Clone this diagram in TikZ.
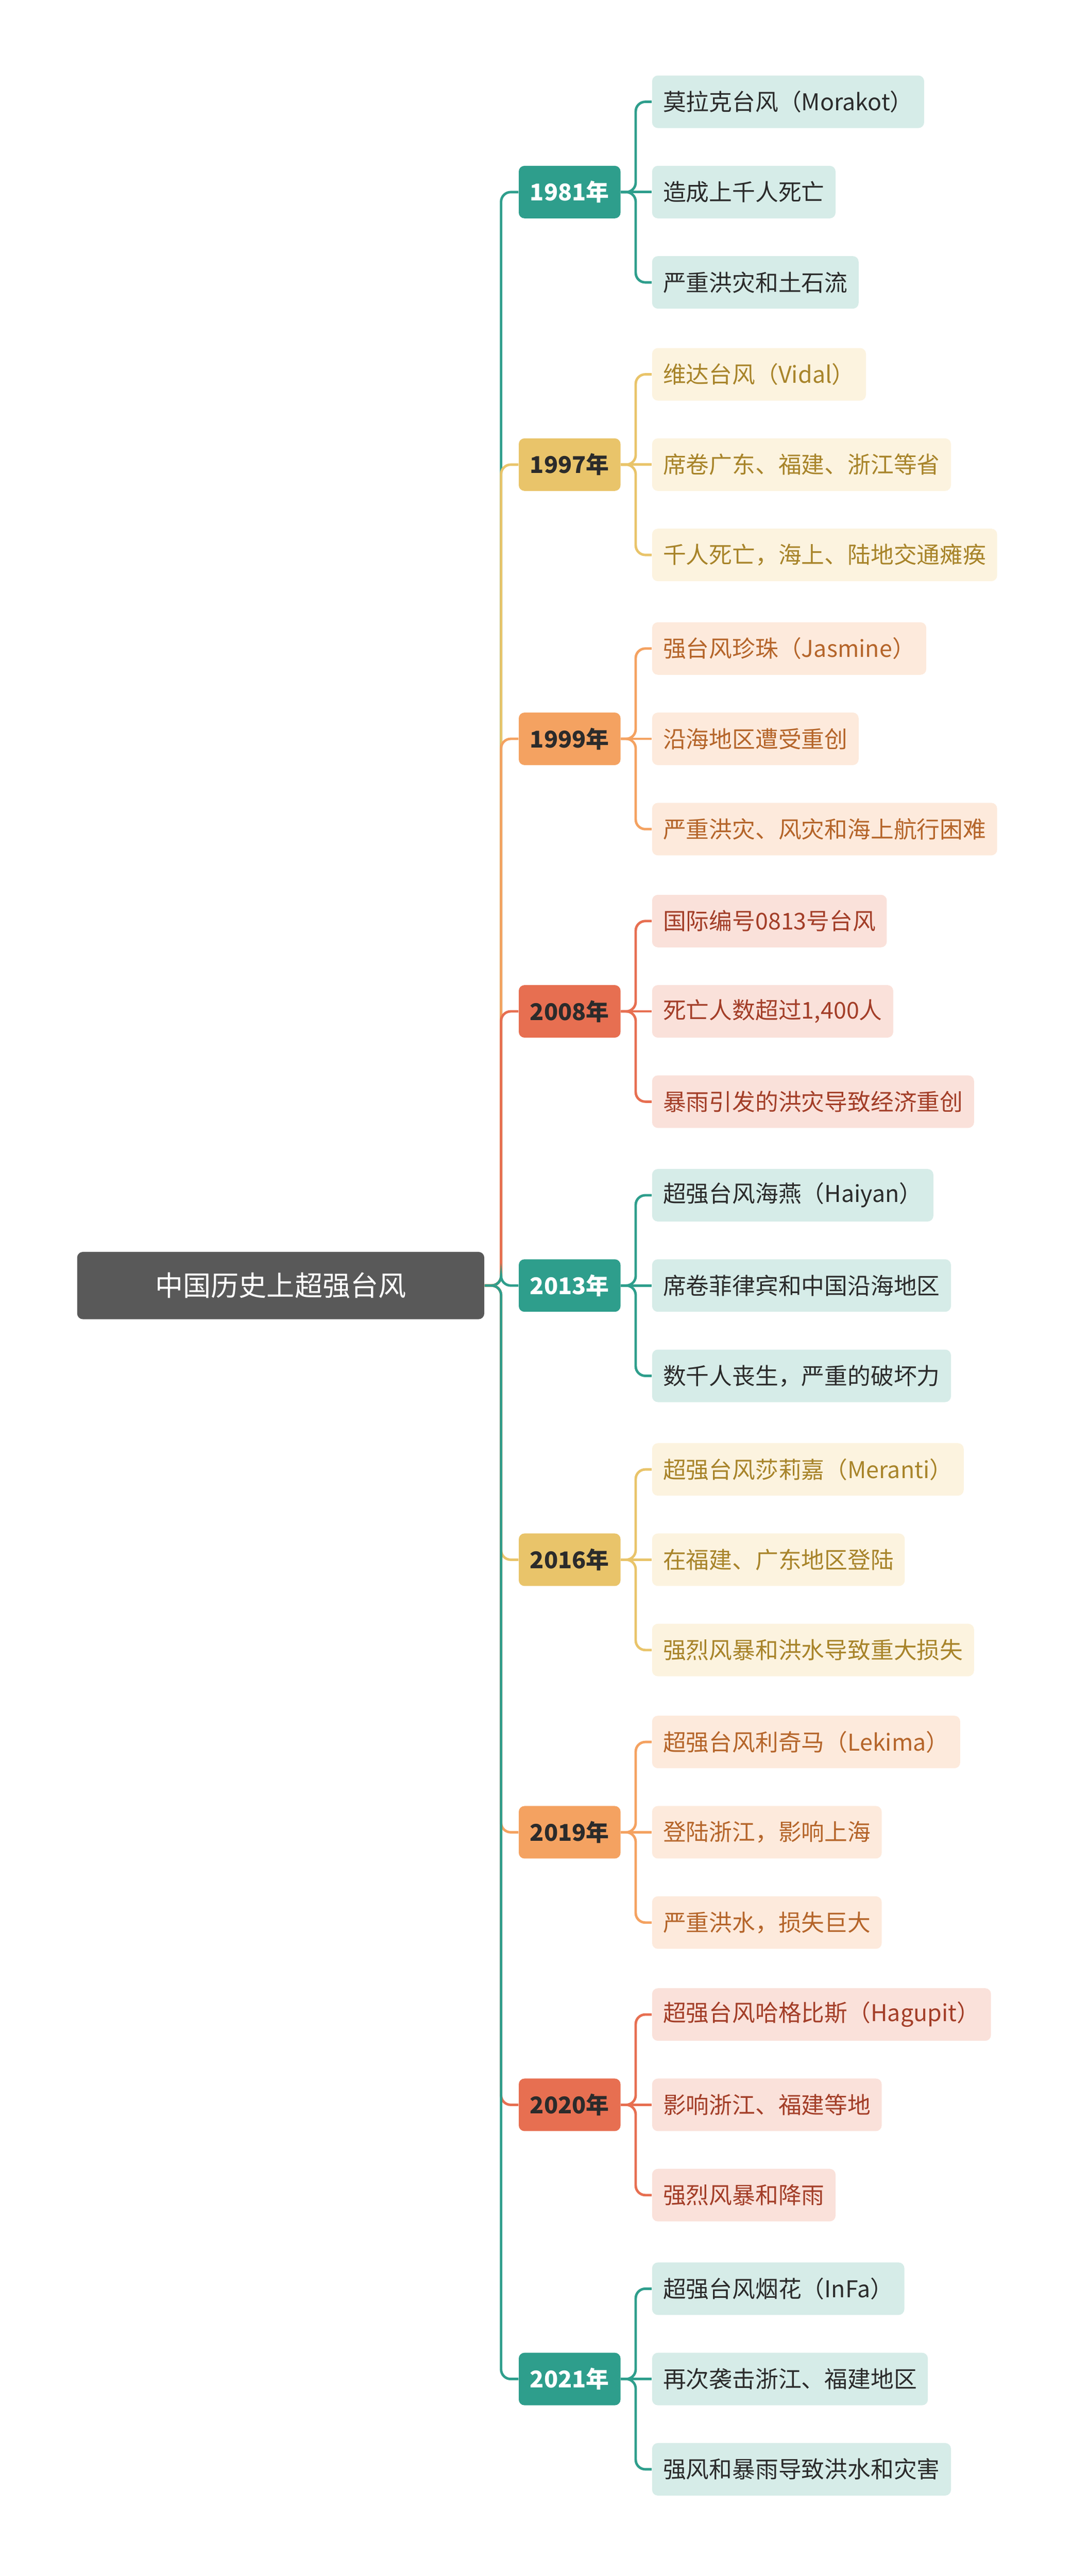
\documentclass[tikz,border=0pt]{standalone}
\usepackage{fontspec}
\setmainfont{Noto Sans CJK SC}
\usepackage{tikz}
\usetikzlibrary{positioning}
\definecolor{tealc}{HTML}{2E9E8C}\definecolor{tealf}{HTML}{D6ECE8}\definecolor{tealt}{HTML}{2B2B2B}
\definecolor{goldc}{HTML}{E9C46A}\definecolor{goldf}{HTML}{FCF3DF}\definecolor{goldt}{HTML}{A8842A}
\definecolor{orac}{HTML}{F4A261}\definecolor{oraf}{HTML}{FDEADC}\definecolor{orat}{HTML}{B5652A}
\definecolor{redc}{HTML}{E76F51}\definecolor{redf}{HTML}{FAE1DA}\definecolor{redt}{HTML}{A33E28}
\definecolor{rootc}{HTML}{595959}
\tikzset{
  rootbox/.style={fill=rootc, text=white, rounded corners=3pt, minimum width=7.44cm, minimum height=1.23cm, font=\fontsize{14.5}{16}\selectfont},
  yearbox/.style={rounded corners=3pt, minimum width=1.86cm, minimum height=0.96cm, font=\fontsize{12}{14}\selectfont\bfseries},
  leafbox/.style={rounded corners=3pt, minimum height=0.96cm, inner xsep=0.2cm, anchor=west, font=\fontsize{12}{14}\selectfont},
  link/.style={line width=1.3pt, rounded corners=5pt}
}
\begin{document}
\begin{tikzpicture}[x=0.03cm, y=-0.03cm]
  \useasboundingbox (0,0) rectangle (653,1569);
  \node[rootbox] (root) at (171,783) {中国历史上超强台风};
  \foreach \i/\yy/\yr/\cc/\tc/\a/\b/\c in {
    1/117/1981/teal/white/{莫拉克台风（Morakot）}/{造成上千人死亡}/{严重洪灾和土石流},
    2/283/1997/gold/tealt/{维达台风（Vidal）}/{席卷广东、福建、浙江等省}/{千人死亡，海上、陆地交通瘫痪},
    3/450/1999/ora/tealt/{强台风珍珠（Jasmine）}/{沿海地区遭受重创}/{严重洪灾、风灾和海上航行困难},
    4/616/2008/red/tealt/{国际编号0813号台风}/{死亡人数超过1,400人}/{暴雨引发的洪灾导致经济重创},
    5/783/2013/teal/white/{超强台风海燕（Haiyan）}/{席卷菲律宾和中国沿海地区}/{数千人丧生，严重的破坏力},
    6/950/2016/gold/tealt/{超强台风莎莉嘉（Meranti）}/{在福建、广东地区登陆}/{强烈风暴和洪水导致重大损失},
    7/1116/2019/ora/tealt/{超强台风利奇马（Lekima）}/{登陆浙江，影响上海}/{严重洪水，损失巨大},
    8/1282/2020/red/tealt/{超强台风哈格比斯（Hagupit）}/{影响浙江、福建等地}/{强烈风暴和降雨},
    9/1449/2021/teal/white/{超强台风烟花（InFa）}/{再次袭击浙江、福建地区}/{强风和暴雨导致洪水和灾害}}{
    \node[yearbox, fill=\cc c, text=\tc] (y\i) at (347,\yy) {\yr 年};
    \node[leafbox, fill=\cc f, text=\cc t] (la\i) at (397,\yy-55) {\a};
    \node[leafbox, fill=\cc f, text=\cc t] (lb\i) at (397,\yy) {\b};
    \node[leafbox, fill=\cc f, text=\cc t] (lc\i) at (397,\yy+55) {\c};
    \draw[link, \cc c] (root.east) -- ++(10,0) |- (y\i.west);
    \draw[link, \cc c] (y\i.east) -- ++(9,0) |- (la\i.west);
    \draw[link, \cc c] (y\i.east) -- (lb\i.west);
    \draw[link, \cc c] (y\i.east) -- ++(9,0) |- (lc\i.west);
  }
\end{tikzpicture}
\end{document}
